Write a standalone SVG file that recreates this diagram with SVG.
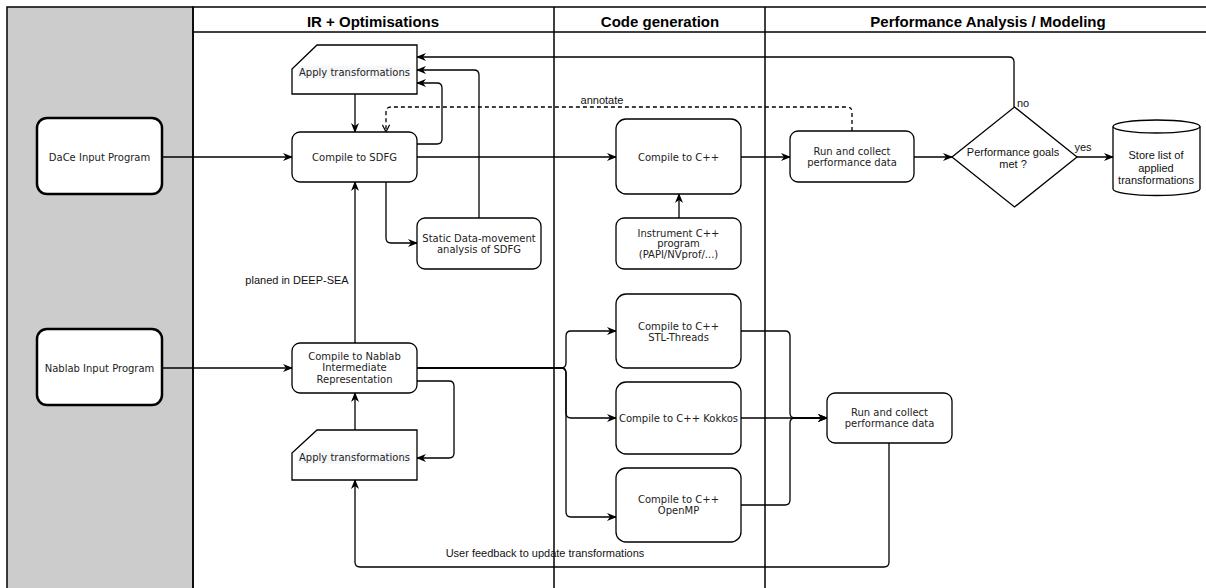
<svg xmlns="http://www.w3.org/2000/svg" width="1206" height="588" viewBox="0 0 1206 588">
  <defs>
    <style>
      .lane { fill: none; stroke: #000; stroke-width: 1.5; }
      .hdr { font-family: "Liberation Sans", Arial, sans-serif; font-size: 15px; font-weight: bold; fill: #000; text-anchor: middle; }
      .node { fill: #fff; stroke: #000; stroke-width: 1.3; }
      .input { fill: #fff; stroke: #000; stroke-width: 2.5; }
      .nt { font-family: "DejaVu Sans", Verdana, sans-serif; font-size: 10px; fill: #222; text-anchor: middle; }
      .lt { font-family: "Liberation Sans", Arial, sans-serif; font-size: 11px; fill: #111; text-anchor: middle; }
      .edge { fill: none; stroke: #000; stroke-width: 1.3; marker-end: url(#arrow); }
      .plain { fill: none; stroke: #000; stroke-width: 1.3; }
      .dash { fill: none; stroke: #000; stroke-width: 1.3; stroke-dasharray: 4 3; marker-end: url(#open); }
    </style>
    <marker id="arrow" viewBox="0 0 10 8" refX="9" refY="4" markerWidth="10" markerHeight="8" markerUnits="userSpaceOnUse" orient="auto">
      <path d="M0,0 L10,4 L0,8 L3,4 Z" fill="#000"/>
    </marker>
    <marker id="open" viewBox="0 0 10 10" refX="9" refY="5" markerWidth="9" markerHeight="9" markerUnits="userSpaceOnUse" orient="auto">
      <path d="M1,1 L9,5 L1,9" fill="none" stroke="#000" stroke-width="1.3"/>
    </marker>
  </defs>

  <!-- swimlane frame -->
  <g id="lanes">
    <rect x="7" y="7" width="186" height="590" fill="#cccccc" stroke="#000" stroke-width="1.5"/>
    <rect x="193" y="7" width="1020" height="590" class="lane"/>
    <line x1="193" y1="32" x2="1213" y2="32" class="lane"/>
    <line x1="554" y1="7" x2="554" y2="597" class="lane"/>
    <line x1="765" y1="7" x2="765" y2="597" class="lane"/>
    <text x="373" y="27" class="hdr">IR + Optimisations</text>
    <text x="660" y="27" class="hdr">Code generation</text>
    <text x="988" y="27" class="hdr">Performance Analysis / Modeling</text>
  </g>

  <!-- connectors -->
  <g id="connectors">
    <path d="M162,157 L292,157" class="edge"/>
    <path d="M162,368 L292,368" class="edge"/>
    <path d="M355,94 L355,132" class="edge"/>
    <path d="M417,144 L437,144 Q442,144 442,139 L442,88 Q442,83 437,83 L417,83" class="edge"/>
    <path d="M479,218 L479,75 Q479,70 474,70 L417,70" class="edge"/>
    <path d="M1014,107 L1014,62 Q1014,57 1009,57 L417,57" class="edge"/>
    <path d="M852,131 L852,112 Q852,107 847,107 L391,107 Q386,107 386,112 L386,132" class="dash"/>
    <path d="M386,182 L386,238 Q386,243 391,243 L417,243" class="edge"/>
    <path d="M417,157 L616,157" class="edge"/>
    <path d="M679,218 L679,194" class="edge"/>
    <path d="M741,157 L790,157" class="edge"/>
    <path d="M914,157 L952,157" class="edge"/>
    <path d="M1077,157 L1113,157" class="edge"/>
    <path d="M355,343 L355,182" class="edge"/>
    <path d="M355,430 L355,393" class="edge"/>
    <path d="M417,381 L449,381 Q454,381 454,386 L454,453 Q454,458 449,458 L417,458" class="edge"/>
    <path d="M417,368 L561,368 Q566,368 566,363 L566,336 Q566,331 571,331 L616,331" class="edge"/>
    <path d="M417,368 L561,368 Q566,368 566,373 L566,413 Q566,418 571,418 L616,418" class="edge"/>
    <path d="M417,368 L561,368 Q566,368 566,373 L566,512 Q566,517 571,517 L616,517" class="edge"/>
    <path d="M741,331 L785,331 Q790,331 790,336 L790,413 Q790,418 795,418 L827,418" class="edge"/>
    <path d="M741,418 L827,418" class="edge"/>
    <path d="M741,505 L785,505 Q790,505 790,500 L790,423 Q790,418 795,418 L827,418" class="edge"/>
    <path d="M889,443 L889,562 Q889,567 884,567 L360,567 Q355,567 355,562 L355,480" class="edge"/>
    <text x="602" y="104" class="lt">annotate</text>
    <text x="1017" y="107" class="lt" style="text-anchor:start">no</text>
    <text x="1083" y="151" class="lt">yes</text>
    <text x="297" y="284" class="lt">planed in DEEP-SEA</text>
    <text x="545" y="557" class="lt">User feedback to update transformations</text>
  </g>

  <!-- nodes -->
  <g id="dace-input">
    <rect x="37" y="118" width="125" height="76" rx="10" class="input"/>
    <text x="99.5" y="160.5" class="nt">DaCe Input Program</text>
  </g>
  <g id="nablab-input">
    <rect x="37" y="329" width="125" height="76" rx="10" class="input"/>
    <text x="99.5" y="371.5" class="nt">Nablab Input Program</text>
  </g>
  <g id="apply-top">
    <path d="M317,45 L417,45 L417,94 L292,94 L292,69 Z" class="node"/>
    <rect x="298" y="66" width="112" height="13" fill="#f6f7f9"/>
    <text x="354.5" y="75.5" class="nt">Apply transformations</text>
  </g>
  <g id="compile-sdfg">
    <rect x="292" y="132" width="125" height="50" rx="8" class="node"/>
    <text x="354.5" y="160.5" class="nt">Compile to SDFG</text>
  </g>
  <g id="static-analysis">
    <rect x="417" y="218" width="124" height="51" rx="8" class="node"/>
    <text x="479" y="241.5" class="nt">Static Data-movement</text>
    <text x="479" y="252.5" class="nt">analysis of SDFG</text>
  </g>
  <g id="compile-nablab">
    <rect x="292" y="343" width="125" height="50" rx="8" class="node"/>
    <text x="354.5" y="359.5" class="nt">Compile to Nablab</text>
    <text x="354.5" y="371" class="nt">Intermediate</text>
    <text x="354.5" y="382.5" class="nt">Representation</text>
  </g>
  <g id="apply-bottom">
    <path d="M317,430 L417,430 L417,480 L292,480 L292,453 Z" class="node"/>
    <rect x="298" y="451" width="112" height="13" fill="#f6f7f9"/>
    <text x="354.5" y="460.5" class="nt">Apply transformations</text>
  </g>
  <g id="compile-cpp">
    <rect x="616" y="119" width="125" height="75" rx="10" class="node"/>
    <text x="678.5" y="160.5" class="nt">Compile to C++</text>
  </g>
  <g id="instrument">
    <rect x="616" y="218" width="125" height="51" rx="8" class="node"/>
    <text x="678.5" y="236.5" class="nt">Instrument C++</text>
    <text x="678.5" y="247" class="nt">program</text>
    <text x="678.5" y="257.5" class="nt">(PAPI/NVprof/...)</text>
  </g>
  <g id="compile-stl">
    <rect x="616" y="294" width="125" height="74" rx="10" class="node"/>
    <text x="678.5" y="329.5" class="nt">Compile to C++</text>
    <text x="678.5" y="340.5" class="nt">STL-Threads</text>
  </g>
  <g id="compile-kokkos">
    <rect x="616" y="382" width="125" height="72" rx="10" class="node"/>
    <text x="678.5" y="421.5" class="nt">Compile to C++ Kokkos</text>
  </g>
  <g id="compile-openmp">
    <rect x="616" y="468" width="125" height="74" rx="10" class="node"/>
    <text x="678.5" y="502.5" class="nt">Compile to C++</text>
    <text x="678.5" y="514" class="nt">OpenMP</text>
  </g>
  <g id="run-top">
    <rect x="790" y="131" width="124" height="51" rx="8" class="node"/>
    <text x="852" y="154.5" class="nt">Run and collect</text>
    <text x="852" y="166" class="nt">performance data</text>
  </g>
  <g id="goals">
    <path d="M1014.5,107 L1077,157 L1014.5,207 L952,157 Z" class="node"/>
    <text x="1013" y="156" class="lt">Performance goals</text>
    <text x="1013" y="167.5" class="lt">met ?</text>
  </g>
  <g id="store">
    <path d="M1113,126.5 L1113,189 A43.5,6.5 0 0 0 1200,189 L1200,126.5 A43.5,6.5 0 0 0 1113,126.5 Z" class="node"/>
    <path d="M1113,126.5 A43.5,6.5 0 0 0 1200,126.5" class="plain"/>
    <text x="1156" y="159" class="lt">Store list of</text>
    <text x="1156" y="171.5" class="lt">applied</text>
    <text x="1156" y="184" class="lt">transformations</text>
  </g>
  <g id="run-bottom">
    <rect x="827" y="393" width="125" height="50" rx="8" class="node"/>
    <text x="889.5" y="415.5" class="nt">Run and collect</text>
    <text x="889.5" y="427" class="nt">performance data</text>
  </g>
</svg>
